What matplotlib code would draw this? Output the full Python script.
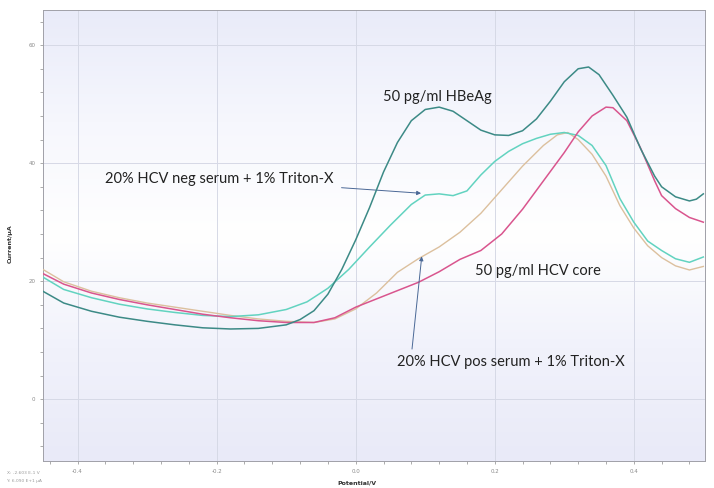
import numpy as np
import matplotlib
matplotlib.use("Agg")
import matplotlib.pyplot as plt
from matplotlib.colors import LinearSegmentedColormap

# potential (V) / current (uA)
hbeag_x = [-0.45, -0.42, -0.38, -0.34, -0.30, -0.26, -0.22, -0.18, -0.14, -0.10,
           -0.08, -0.06, -0.04, -0.02, 0.00, 0.02, 0.04, 0.06, 0.08, 0.10,
           0.12, 0.14, 0.16, 0.18, 0.20, 0.22, 0.24, 0.26, 0.28, 0.30,
           0.32, 0.335, 0.35, 0.37, 0.39, 0.41, 0.43, 0.44, 0.46, 0.48, 0.49, 0.50]
hbeag_y = [18.3, 16.3, 14.9, 13.9, 13.2, 12.6, 12.1, 11.9, 12.0, 12.6,
           13.5, 15.0, 17.8, 22.0, 27.0, 32.5, 38.5, 43.5, 47.2, 49.1,
           49.5, 48.8, 47.2, 45.6, 44.8, 44.7, 45.5, 47.5, 50.5, 53.8,
           56.0, 56.3, 55.0, 51.5, 47.8, 42.4, 37.8, 36.0, 34.3, 33.6, 33.9, 34.8]

core_x = [-0.45, -0.42, -0.38, -0.34, -0.30, -0.26, -0.22, -0.18, -0.14, -0.10,
          -0.06, -0.03, 0.00, 0.03, 0.06, 0.09, 0.12, 0.15, 0.18, 0.21,
          0.24, 0.27, 0.30, 0.32, 0.34, 0.36, 0.37, 0.39, 0.41, 0.43,
          0.44, 0.46, 0.48, 0.50]
core_y = [21.3, 19.5, 18.0, 16.9, 16.0, 15.2, 14.4, 13.8, 13.3, 13.0,
          13.0, 13.8, 15.6, 17.0, 18.4, 19.8, 21.6, 23.7, 25.2, 28.0,
          32.2, 37.0, 41.8, 45.3, 48.0, 49.5, 49.4, 47.2, 42.5, 37.0,
          34.5, 32.3, 30.8, 30.0]

neg_x = [-0.45, -0.42, -0.38, -0.34, -0.30, -0.26, -0.22, -0.18, -0.14, -0.10,
         -0.07, -0.04, -0.01, 0.02, 0.05, 0.08, 0.10, 0.12, 0.14, 0.16,
         0.18, 0.20, 0.22, 0.24, 0.26, 0.28, 0.30, 0.32, 0.34, 0.36,
         0.38, 0.40, 0.42, 0.44, 0.46, 0.48, 0.50]
neg_y = [20.7, 18.6, 17.2, 16.1, 15.3, 14.7, 14.2, 14.0, 14.3, 15.2,
         16.5, 18.8, 22.0, 25.8, 29.5, 33.0, 34.6, 34.8, 34.5, 35.3,
         38.0, 40.3, 42.0, 43.3, 44.2, 44.9, 45.2, 44.7, 43.0, 39.6,
         34.0, 30.0, 26.8, 25.2, 23.8, 23.2, 24.1]

pos_x = [-0.45, -0.42, -0.38, -0.34, -0.30, -0.26, -0.22, -0.18, -0.14, -0.10,
         -0.06, -0.03, 0.00, 0.03, 0.06, 0.09, 0.12, 0.15, 0.18, 0.21,
         0.24, 0.27, 0.29, 0.305, 0.32, 0.34, 0.36, 0.38, 0.40, 0.42,
         0.44, 0.46, 0.48, 0.50]
pos_y = [22.0, 19.9, 18.3, 17.2, 16.3, 15.6, 14.9, 14.2, 13.6, 13.2,
         13.0, 13.6, 15.3, 18.0, 21.5, 23.8, 25.8, 28.3, 31.5, 35.5,
         39.5, 43.0, 44.8, 45.2, 44.0, 41.5, 37.8, 32.8, 29.0, 26.0,
         24.0, 22.6, 21.9, 22.5]

fig = plt.figure(figsize=(7.14, 4.88), dpi=100)
ax = fig.add_axes([0.060, 0.055, 0.927, 0.925])

# faint lavender screen background, lighter in the middle
bg = LinearSegmentedColormap.from_list("bg", ["#e9ebf9", "#f6f7fd", "#ffffff", "#f1f2fb", "#e9eaf8"])
grad = np.linspace(0, 1, 256).reshape(-1, 1)
ax.imshow(grad, cmap=bg, aspect="auto", extent=[0, 1, 0, 1],
          transform=ax.transAxes, zorder=0)

ax.set_xlim(-0.45, 0.502)
ax.set_ylim(-10.5, 66)

ax.plot(pos_x, pos_y, color="#dcc09e", lw=1.0, zorder=3)
ax.plot(neg_x, neg_y, color="#62d3c0", lw=1.1, zorder=3)
ax.plot(core_x, core_y, color="#d9558e", lw=1.1, zorder=3)
ax.plot(hbeag_x, hbeag_y, color="#3c8a86", lw=1.1, zorder=4)

ax.set_xticks([-0.4, -0.2, 0.0, 0.2, 0.4])
ax.set_xticklabels(["-0.4", "-0.2", "0.0", "0.2", "0.4"])
ax.set_yticks([0, 20, 40, 60])
ax.set_xticks(np.arange(-0.44, 0.5, 0.04), minor=True)
ax.set_yticks(np.arange(-8, 66, 4), minor=True)
ax.tick_params(which="both", labelsize=4, colors="#8a8a8a", length=2, width=0.5)
ax.grid(True, which="major", color="#d6d9e6", lw=0.7)
ax.set_axisbelow(True)
for s in ax.spines.values():
    s.set_color("#a0a0a8")
    s.set_linewidth(0.7)

fig.text(0.014, 0.50, "Current/µA", rotation=90, fontsize=4.5, fontweight="bold",
         color="#333333", ha="center", va="center")
fig.text(0.500, 0.011, "Potential/V", fontsize=4.5, fontweight="bold",
         color="#333333", ha="center", va="center")
fig.text(0.010, 0.030, "X: -2.603 E-1 V", fontsize=3.2, color="#9a9a9a", va="center")
fig.text(0.010, 0.015, "Y: 6.090 E+1 µA", fontsize=3.2, color="#9a9a9a", va="center")

fs = 10.5
fam = ["Lato", "DejaVu Sans"]
ax.text(0.039, 51.2, "50 pg/ml HBeAg", fontsize=fs, family=fam, color="#222222", va="center")
ax.text(0.171, 21.7, "50 pg/ml HCV core", fontsize=fs, family=fam, color="#222222", va="center")
ax.annotate("20% HCV neg serum + 1% Triton-X", xy=(0.094, 34.9), xytext=(-0.361, 37.3),
            fontsize=fs, family=fam, color="#222222", va="center",
            arrowprops=dict(arrowstyle="-|>", color="#4a6896", lw=0.7,
                            mutation_scale=6, shrinkA=4, shrinkB=0))
ax.text(0.06, 6.3, "20% HCV pos serum + 1% Triton-X", fontsize=fs, family=fam,
        color="#222222", va="center")
ax.annotate("", xy=(0.095, 24.2), xytext=(0.081, 8.5),
            arrowprops=dict(arrowstyle="-|>", color="#4a6896", lw=0.7,
                            mutation_scale=6, shrinkA=0, shrinkB=0))

fig.savefig("out.png", dpi=100)
